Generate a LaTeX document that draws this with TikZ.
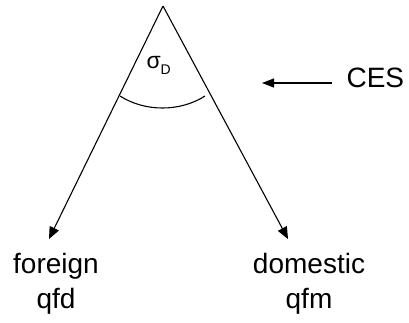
\documentclass[tikz,border=0pt]{standalone}
\usepackage{fontspec}
\setmainfont{Liberation Sans}
\usetikzlibrary{arrows.meta}
\begin{document}
\begin{tikzpicture}[x=1pt,y=-1pt,
  lbl/.style={inner sep=0pt,align=center,font=\fontsize{28}{35}\selectfont},
  tip/.style={-{Triangle[length=12pt,width=10pt]}},
  line width=1.1pt]
\useasboundingbox (0,0) rectangle (409,322);
\coordinate (apex) at (163,6);
\coordinate (ltip) at (49,239);
\coordinate (rtip) at (288,239);
\draw[tip] (apex) -- (ltip);
\draw[tip] (apex) -- (rtip);
\coordinate (al) at (120,96);
\coordinate (ar) at (205,96);
\draw (al) .. controls (145,112) and (180,112) .. (ar);
\node[inner sep=0pt,anchor=base west] (sig) at (146,68) {\fontsize{23}{26}\selectfont σ\raisebox{-6pt}{\fontsize{14}{16}\selectfont D}};
\node[lbl,anchor=west] (ces) at (346,78) {CES};
\coordinate (cesend) at (262,83);
\draw[-{Triangle[length=12pt,width=9pt]}] (332,83) -- (cesend);
\node[lbl] (foreign) at (56,284) {foreign\\qfd};
\node[lbl] (domestic) at (309,284) {domestic\\qfm};
\end{tikzpicture}
\end{document}
